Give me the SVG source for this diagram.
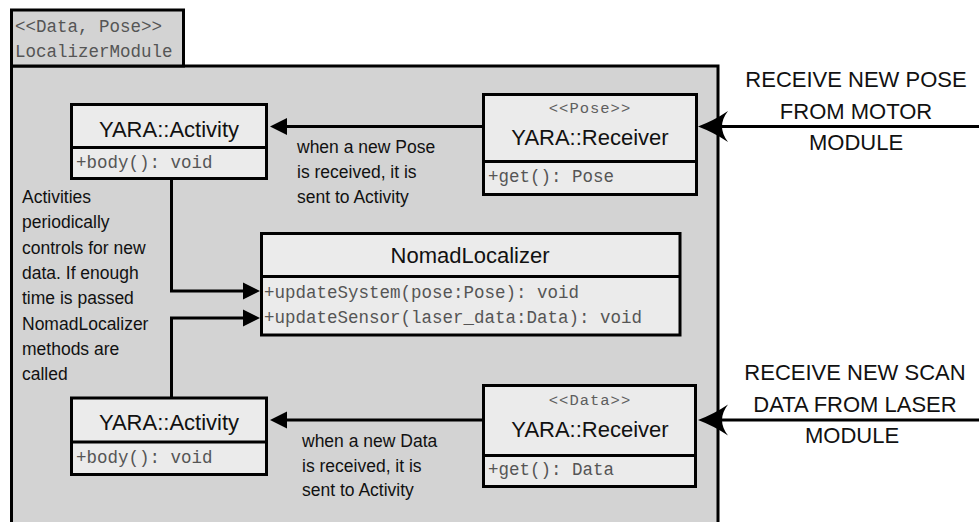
<svg xmlns="http://www.w3.org/2000/svg" width="979" height="522" viewBox="0 0 979 522">
  <style>
    .pkg { fill: #d3d3d3; stroke: #000; stroke-width: 3; }
    .box { fill: #ebebeb; stroke: #000; stroke-width: 3; }
    .sep { stroke: #000; stroke-width: 3; }
    .wire { fill: none; stroke: #000; stroke-width: 3; }
    .title { font-family: "Liberation Sans", Arial, sans-serif; font-size: 22px; fill: #111; text-anchor: middle; }
    .note { font-family: "Liberation Sans", Arial, sans-serif; font-size: 17.5px; fill: #111; }
    .ext { font-family: "Liberation Sans", Arial, sans-serif; font-size: 22px; fill: #111; text-anchor: middle; }
    .code { font-family: "Liberation Mono", "Courier New", monospace; font-size: 17.5px; fill: #555; }
    .stereo { font-family: "Liberation Mono", "Courier New", monospace; font-size: 15.5px; letter-spacing: 1px; fill: #5e5e5e; text-anchor: middle; }
  </style>
  <defs>
    <!-- solid triangular head, drawn in front of the line end -->
    <marker id="tri" markerUnits="userSpaceOnUse" viewBox="0 -10 20 20" markerWidth="20" markerHeight="20" refX="0" refY="0" orient="auto" overflow="visible">
      <path d="M0,-8.5 L17,0 L0,8.5 Z" fill="#000"/>
    </marker>
    <!-- concave (stealth) head for incoming messages -->
    <marker id="stealth" markerUnits="userSpaceOnUse" viewBox="0 -16 32 32" markerWidth="32" markerHeight="32" refX="6" refY="0" orient="auto" overflow="visible">
      <path d="M30,0 Q14,-6 0,-15.5 Q12,0 0,15.5 Q14,6 30,0 Z" fill="#000"/>
    </marker>
  </defs>

  <!-- package: LocalizerModule -->
  <g id="localizer-module">
    <rect class="pkg" x="11.5" y="66" width="706.5" height="470"/>
    <rect class="pkg" x="11.5" y="10" width="172" height="56"/>
    <text class="code" x="15" y="32">&lt;&lt;Data, Pose&gt;&gt;</text>
    <text class="code" x="15" y="57">LocalizerModule</text>
  </g>

  <!-- connectors -->
  <g id="connectors">
    <path class="wire" d="M483.5,126.5 L287,126.5" marker-end="url(#tri)"/>
    <path class="wire" d="M483.5,420 L287,420" marker-end="url(#tri)"/>
    <path class="wire" d="M171.5,179 L171.5,291 L243,291" marker-end="url(#tri)"/>
    <path class="wire" d="M171.5,398 L171.5,318 L243,318" marker-end="url(#tri)"/>
    <path class="wire" d="M979,126.5 L722,126.5" marker-end="url(#stealth)"/>
    <path class="wire" d="M979,420 L722,420" marker-end="url(#stealth)"/>
  </g>

  <!-- YARA::Activity (pose) -->
  <g id="activity-pose">
    <rect class="box" x="71.5" y="104.5" width="195" height="74"/>
    <line class="sep" x1="71.5" y1="147.5" x2="266.5" y2="147.5"/>
    <text class="title" x="169" y="137">YARA::Activity</text>
    <text class="code" x="76" y="168">+body(): void</text>
  </g>

  <!-- YARA::Receiver <<Pose>> -->
  <g id="receiver-pose">
    <rect class="box" x="483.5" y="94.5" width="213" height="100"/>
    <line class="sep" x1="483.5" y1="161.5" x2="696.5" y2="161.5"/>
    <text class="stereo" x="590" y="113">&lt;&lt;Pose&gt;&gt;</text>
    <text class="title" x="590" y="145">YARA::Receiver</text>
    <text class="code" x="488" y="182">+get(): Pose</text>
  </g>

  <!-- NomadLocalizer -->
  <g id="nomad-localizer">
    <rect class="box" x="261.5" y="233.5" width="418.5" height="101.5"/>
    <line class="sep" x1="261.5" y1="276.5" x2="680" y2="276.5"/>
    <text class="title" x="470" y="263">NomadLocalizer</text>
    <text class="code" x="264" y="298">+updateSystem(pose:Pose): void</text>
    <text class="code" x="264" y="323">+updateSensor(laser_data:Data): void</text>
  </g>

  <!-- YARA::Activity (data) -->
  <g id="activity-data">
    <rect class="box" x="71.5" y="398" width="195" height="76.5"/>
    <line class="sep" x1="71.5" y1="442" x2="266.5" y2="442"/>
    <text class="title" x="169" y="430">YARA::Activity</text>
    <text class="code" x="76" y="463">+body(): void</text>
  </g>

  <!-- YARA::Receiver <<Data>> -->
  <g id="receiver-data">
    <rect class="box" x="483.5" y="385.5" width="212" height="101"/>
    <line class="sep" x1="483.5" y1="455.5" x2="695.5" y2="455.5"/>
    <text class="stereo" x="590" y="405">&lt;&lt;Data&gt;&gt;</text>
    <text class="title" x="590" y="437">YARA::Receiver</text>
    <text class="code" x="488" y="475">+get(): Data</text>
  </g>

  <!-- notes -->
  <g id="note-activities">
    <text class="note" x="22" y="203">Activities</text>
    <text class="note" x="22" y="228.3">periodically</text>
    <text class="note" x="22" y="253.6">controls for new</text>
    <text class="note" x="22" y="278.9">data. If enough</text>
    <text class="note" x="22" y="304.2">time is passed</text>
    <text class="note" x="22" y="329.5">NomadLocalizer</text>
    <text class="note" x="22" y="354.8">methods are</text>
    <text class="note" x="22" y="380">called</text>
  </g>
  <g id="note-pose">
    <text class="note" x="297" y="153">when a new Pose</text>
    <text class="note" x="297" y="178">is received, it is</text>
    <text class="note" x="297" y="203">sent to Activity</text>
  </g>
  <g id="note-data">
    <text class="note" x="302" y="447">when a new Data</text>
    <text class="note" x="302" y="472">is received, it is</text>
    <text class="note" x="302" y="496">sent to Activity</text>
  </g>

  <!-- incoming message labels -->
  <g id="label-motor">
    <text class="ext" x="856" y="87">RECEIVE NEW POSE</text>
    <text class="ext" x="856" y="118.5">FROM MOTOR</text>
    <text class="ext" x="856" y="150">MODULE</text>
  </g>
  <g id="label-laser">
    <text class="ext" x="855" y="380">RECEIVE NEW SCAN</text>
    <text class="ext" x="855" y="411.5">DATA FROM LASER</text>
    <text class="ext" x="852" y="443">MODULE</text>
  </g>
</svg>
